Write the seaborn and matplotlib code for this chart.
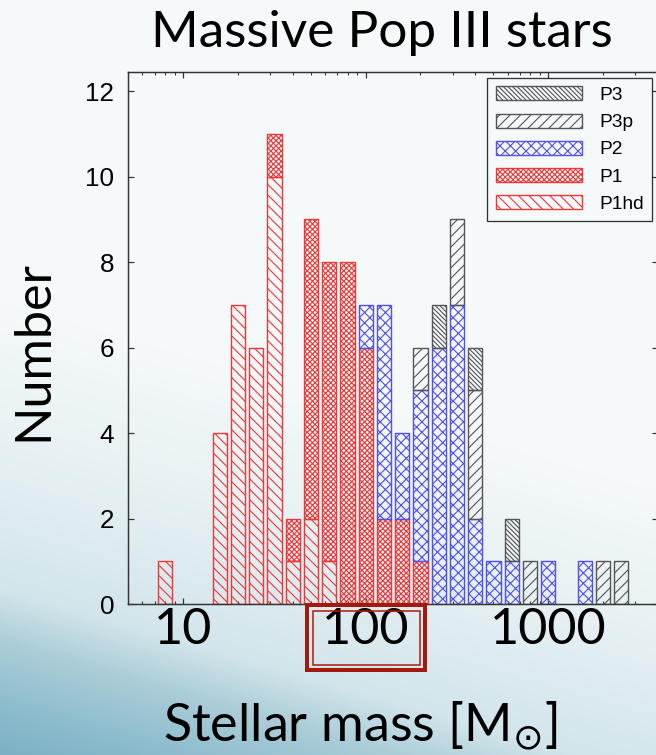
import numpy as np
import pandas as pd
import seaborn as sns
import matplotlib.pyplot as plt
from matplotlib.patches import Patch, Rectangle
from matplotlib.ticker import LogLocator, NullFormatter, NullLocator, FixedLocator

# log10(M / Msun) at the centre of each 0.1-dex mass bin
log_mass_bins = [0.9, 1.0, 1.1, 1.2, 1.3, 1.4, 1.5, 1.6, 1.7, 1.8, 1.9, 2.0, 2.1,
                 2.2, 2.3, 2.4, 2.5, 2.6, 2.7, 2.8, 2.9, 3.0, 3.1, 3.2, 3.3, 3.4]

# number of stars per bin for each population
n_P1hd = [1, 0, 0, 4, 7, 6, 10, 1, 2, 1, 0, 0, 0, 0, 0, 0, 0, 0, 0, 0, 0, 0, 0, 0, 0, 0]
n_P1   = [0, 0, 0, 0, 0, 0, 1, 1, 7, 7, 8, 6, 2, 2, 1, 0, 0, 0, 0, 0, 0, 0, 0, 0, 0, 0]
n_P2   = [0, 0, 0, 0, 0, 0, 0, 0, 0, 0, 0, 1, 5, 2, 4, 6, 7, 2, 1, 1, 0, 1, 0, 1, 0, 0]
n_P3p  = [0, 0, 0, 0, 0, 0, 0, 0, 0, 0, 0, 0, 0, 0, 1, 0, 2, 3, 0, 0, 1, 0, 0, 0, 1, 1]
n_P3   = [0, 0, 0, 0, 0, 0, 0, 0, 0, 0, 0, 0, 0, 0, 0, 1, 0, 1, 0, 1, 0, 0, 0, 0, 0, 0]

populations = ["P3", "P3p", "P2", "P1", "P1hd"]   # legend order, top of stack first
counts = {"P3": n_P3, "P3p": n_P3p, "P2": n_P2, "P1": n_P1, "P1hd": n_P1hd}

x_ticks = [10, 100, 1000]
x_tick_labels = ["10", "100", "1000"]
y_ticks = [0, 2, 4, 6, 8, 10, 12]

title = "Massive Pop III stars"
x_label = r"Stellar mass [M$_{\odot}$]"
y_label = "Number"

# per-population bar styling
edge_colors = {"P3": "#555555", "P3p": "#555555", "P2": "#5050ee",
               "P1": "#ee3838", "P1hd": "#ee3838"}
hatches = {"P3": "\\" * 9, "P3p": "////", "P2": "xxxx", "P1": "x" * 8,
           "P1hd": "\\\\\\\\"}

rows = []
for pop in populations:
    for lm, n in zip(log_mass_bins, counts[pop]):
        if n > 0:
            rows.append({"mass": 10 ** lm, "count": n, "pop": pop})
df = pd.DataFrame(rows)

sns.set_theme(style="ticks")
plt.rcParams["font.family"] = ["Liberation Sans", "DejaVu Sans"]
plt.rcParams["mathtext.fontset"] = "dejavusans"
plt.rcParams["hatch.linewidth"] = 0.65

DPI = 125
W, H = 656, 755
fig = plt.figure(figsize=(W / DPI, H / DPI), dpi=DPI)

# soft slide background: pale at the top, deepening to blue at the lower left
bg = fig.add_axes([0, 0, 1, 1], zorder=-10)
yy, xx = np.mgrid[0:1:H * 1j, 0:1:W * 1j]
f = yy - 0.25 * xx
stops = [0.40, 0.60, 0.78, 0.85, 0.95, 1.0]
cols = np.array([[0xf5, 0xf9, 0xfa], [0xe6, 0xf0, 0xf3], [0xd2, 0xe5, 0xeb],
                 [0xab, 0xcd, 0xd8], [0x88, 0xb9, 0xcb], [0x7b, 0xb1, 0xc4]]) / 255.0
img = np.stack([np.interp(f, stops, cols[:, k]) for k in range(3)], axis=-1)
bg.imshow(img, aspect="auto", extent=(0, 1, 0, 1), origin="upper")
bg.set_axis_off()

ax = fig.add_axes([128 / W, 1 - 604 / H, (658 - 128) / W, (604 - 72) / H])
ax.set_facecolor("none")

palette = {"P3": "#000001", "P3p": "#00ff00", "P2": "#0000ff", "P1": "#ff0000", "P1hd": "#ffff00"}
sns.histplot(data=df, x="mass", weights="count", hue="pop", hue_order=populations,
             multiple="stack", log_scale=True, binwidth=0.1, binrange=(0.85, 3.45),
             shrink=0.78, palette=palette, legend=False, ax=ax)

# restyle each population's bars as outlined, hatched boxes
pal_rgb = {p: np.array(plt.matplotlib.colors.to_rgb(c)) for p, c in palette.items()}
for cont in ax.containers:
    fc = np.array(cont.patches[0].get_facecolor()[:3])
    pop = min(pal_rgb, key=lambda p: np.abs(pal_rgb[p] - fc).sum())
    for bar in cont.patches:
        if bar.get_height() <= 0:
            bar.set_visible(False)
            continue
        bar.set_alpha(None)
        bar.set_facecolor("none")
        bar.set_edgecolor(edge_colors[pop])
        bar.set_hatch(hatches[pop])
        bar.set_linewidth(0.8)

ax.set_xlim(5, 4000)
ax.set_ylim(0, 12.45)
ax.set_xlabel("")
ax.set_ylabel("")

ax.xaxis.set_major_locator(FixedLocator(x_ticks))
ax.set_xticklabels(x_tick_labels)
ax.xaxis.set_minor_locator(LogLocator(base=10, subs=np.arange(2, 10)))
ax.xaxis.set_minor_formatter(NullFormatter())
ax.set_yticks(y_ticks)
ax.yaxis.set_minor_locator(NullLocator())

ax.tick_params(axis="both", which="both", direction="in", top=True, right=True,
               color="#333333", labelcolor="black")
ax.tick_params(axis="y", which="major", length=3.5, width=0.7, pad=8, labelsize=15)
ax.tick_params(axis="x", which="major", length=3.5, width=0.7, pad=2, labelsize=29)
ax.tick_params(axis="x", which="minor", length=2, width=0.6)
for lbl in ax.get_xticklabels():
    lbl.set_fontfamily("Lato")

for sp in ax.spines.values():
    sp.set_visible(True)
    sp.set_color("#333333")
    sp.set_linewidth(0.85)

handles = [Patch(facecolor="none", edgecolor=edge_colors[p], hatch=hatches[p],
                 linewidth=0.8, label=p) for p in populations]
leg = ax.legend(handles=handles, loc="upper right", fontsize=11, frameon=True,
                fancybox=False, edgecolor="black", facecolor="none",
                handlelength=4.5, handleheight=0.75, labelspacing=0.5,
                handletextpad=0.9, borderpad=0.45, borderaxespad=0.3)
leg.get_frame().set_linewidth(0.75)
for t in leg.get_texts():
    t.set_color("black")

fig.text(382 / W, 1 - 47 / H, title, ha="center", va="baseline",
         fontsize=29.5, family="Lato", color="black")
fig.text(33 / W, 1 - 351 / H, y_label, ha="center", va="center", rotation=90,
         fontsize=29, family="Lato", color="black")
fig.text(360 / W, 1 - 741 / H, x_label, ha="center", va="baseline",
         fontsize=30, family="Lato", color="black")

# double red frame around the 100 label
fig.patches.append(Rectangle((307 / W, 1 - 670 / H), 118 / W, 65 / H,
                             transform=fig.transFigure, fill=False,
                             edgecolor="#a5180c", linewidth=2.3, zorder=5))
fig.patches.append(Rectangle((312.5 / W, 1 - 664.5 / H), 107 / W, 54 / H,
                             transform=fig.transFigure, fill=False,
                             edgecolor="#b01e12", linewidth=0.9, zorder=5))

fig.savefig("out.png", dpi=DPI)
